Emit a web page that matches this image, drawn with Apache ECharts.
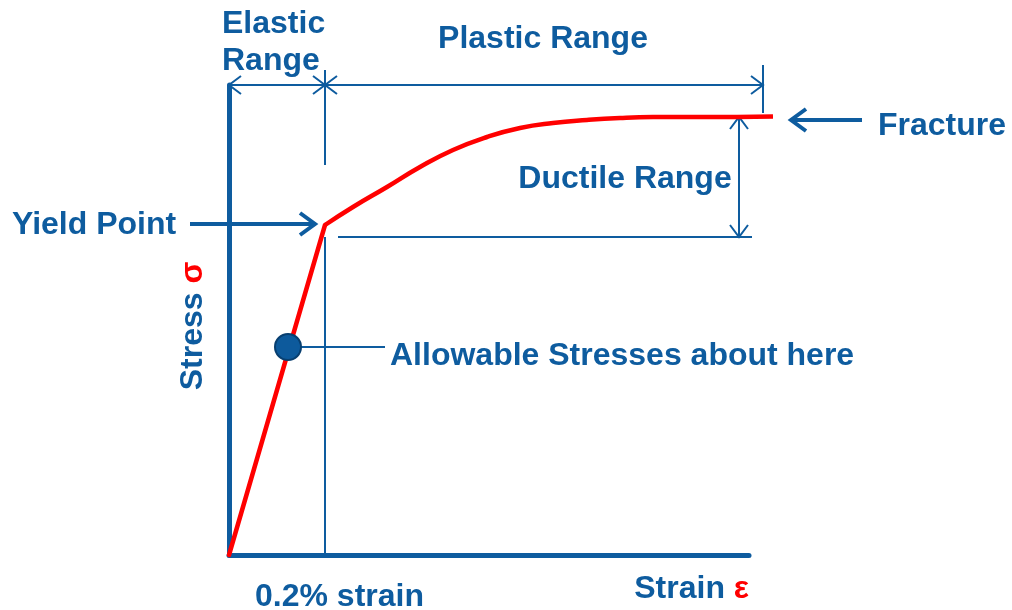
<!DOCTYPE html>
<html>
<head>
<meta charset="utf-8">
<script src="https://cdn.jsdelivr.net/npm/echarts@6/dist/echarts.min.js"></script>
<style>html,body{margin:0;padding:0;background:#fff}#c{width:1012px;height:610px}</style>
</head>
<body>
<div id="c"></div>
<script>
// Stress-strain curve (arbitrary units: strain on x, stress on y)
// elastic part: straight from origin to the yield point
var elasticStrain = [0, 9.6];
var elasticStress = [0, 33.0];
// plastic part: from the yield point to fracture
var plasticStrain = [9.6, 12.4, 15.8, 19.1, 22.4, 25.8, 29.1, 32.4, 35.8, 39.1, 42.4, 50.8, 54.4];
var plasticStress = [33.0, 34.8, 36.8, 38.8, 40.5, 41.8, 42.7, 43.2, 43.5, 43.7, 43.8, 43.8, 43.85];
// allowable stress point
var allowablePoint = [5.9, 20.8];
// thin annotation segments: [x1, y1, x2, y2, arrowAtStart, arrowAtEnd]
var thinSegments = [
  [0, 47, 9.6, 47, 1, 1],        // elastic range
  [9.6, 47, 53.4, 47, 1, 1],     // plastic range
  [53.4, 49, 53.4, 44.2, 0, 0],  // plastic end tick
  [9.6, 48.5, 9.6, 39.0, 0, 0],  // elastic/plastic divider (top)
  [9.6, 31.8, 9.6, 0, 0, 0],     // 0.2% strain line
  [10.9, 31.8, 52.3, 31.8, 0, 0],// yield level line
  [51.0, 43.8, 51.0, 31.8, 1, 1],// ductile range
  [5.9, 20.8, 15.6, 20.8, 0, 0]  // leader to allowable label
];
// thick pointer arrows
var pointerArrows = [
  [-3.9, 33.1, 8.6, 33.1, 0, 1], // yield point
  [63.3, 43.5, 56.2, 43.5, 0, 1] // fracture
];
var labels = {
  elastic1: 'Elastic', elastic2: 'Range', plastic: 'Plastic Range', ductile: 'Ductile Range',
  fracture: 'Fracture', yieldPt: 'Yield Point', allowable: 'Allowable Stresses about here',
  strain02: '0.2% strain', xName: 'Strain', yName: 'Stress'
};

var BLUE = '#0e5c9f';
var RED = '#ff0000';
var FONT = '"Liberation Sans", Arial, sans-serif';

function arrowRender(headLen, headW, lw) {
  return function (params, api) {
    var p1 = api.coord([api.value(0), api.value(1)]);
    var p2 = api.coord([api.value(2), api.value(3)]);
    var dx = p2[0] - p1[0], dy = p2[1] - p1[1];
    var len = Math.sqrt(dx * dx + dy * dy) || 1;
    var ux = dx / len, uy = dy / len, nx = -uy, ny = ux;
    var children = [{
      type: 'line',
      shape: { x1: p1[0], y1: p1[1], x2: p2[0], y2: p2[1] },
      style: { stroke: BLUE, lineWidth: lw }
    }];
    function head(p, sx, sy) {
      children.push({
        type: 'polyline',
        shape: { points: [
          [p[0] + sx * headLen + nx * headW, p[1] + sy * headLen + ny * headW],
          [p[0], p[1]],
          [p[0] + sx * headLen - nx * headW, p[1] + sy * headLen - ny * headW]
        ] },
        style: { stroke: BLUE, lineWidth: lw, fill: null, lineJoin: 'miter' }
      });
    }
    if (api.value(4)) head(p1, ux, uy);
    if (api.value(5)) head(p2, -ux, -uy);
    return { type: 'group', children: children };
  };
}

var elasticData = elasticStrain.map(function (x, i) { return [x, elasticStress[i]]; });
var plasticData = plasticStrain.map(function (x, i) { return [x, plasticStress[i]]; });

// draws the whole curve once (first data item), through the grid's own scales
function curveRender(params, api) {
  if (params.dataIndex !== 0) return null;
  var e = elasticData.map(function (d) { return api.coord(d); });
  var p = plasticData.map(function (d) { return api.coord(d); });
  return {
    type: 'group',
    children: [
      { type: 'polyline', shape: { points: e }, style: { stroke: RED, lineWidth: 4.5, fill: null, lineCap: 'round', lineJoin: 'round' } },
      { type: 'polyline', shape: { points: p, smooth: 0.5 }, style: { stroke: RED, lineWidth: 4.5, fill: null, lineCap: 'butt', lineJoin: 'round' } }
    ]
  };
}

function txt(text, x, y, align) {
  return {
    type: 'text', x: x, y: y, silent: true,
    style: { text: text, fill: BLUE, font: 'bold 32px ' + FONT, align: align || 'left', verticalAlign: 'middle' }
  };
}

var chart = echarts.init(document.getElementById('c'), null, { renderer: 'canvas' });
chart.setOption({
  animation: false,
  backgroundColor: '#ffffff',
  grid: { left: 229, top: 85, width: 520, height: 470 },
  xAxis: {
    type: 'value', min: 0, max: 52, splitLine: { show: false },
    axisTick: { show: false }, axisLabel: { show: false },
    axisLine: { show: true, lineStyle: { color: BLUE, width: 5 } },
    name: labels.xName + ' {r|ε}', nameLocation: 'end', nameGap: 0,
    nameTextStyle: {
      color: BLUE, fontFamily: FONT, fontWeight: 'bold', fontSize: 32,
      align: 'right', verticalAlign: 'top', padding: [18, 0, 0, 0],
      rich: { r: { color: RED, fontFamily: FONT, fontWeight: 'bold', fontSize: 32 } }
    }
  },
  yAxis: {
    type: 'value', min: 0, max: 47, splitLine: { show: false },
    axisTick: { show: false }, axisLabel: { show: false },
    axisLine: { show: true, lineStyle: { color: BLUE, width: 5 } },
    name: labels.yName + ' {r|σ}', nameLocation: 'middle', nameGap: 20, nameRotate: 90,
    nameTextStyle: {
      color: BLUE, fontFamily: FONT, fontWeight: 'bold', fontSize: 32, padding: [0, 12, 0, 0],
      rich: { r: { color: RED, fontFamily: FONT, fontWeight: 'bold', fontSize: 32 } }
    }
  },
  series: [
    {
      type: 'custom', clip: false, z: 2,
      renderItem: arrowRender(12, 9, 2),
      data: thinSegments
    },
    {
      type: 'custom', clip: false, z: 3,
      renderItem: curveRender,
      data: elasticData.concat(plasticData)
    },
    {
      type: 'custom', clip: false, z: 4,
      renderItem: arrowRender(15, 11, 4),
      data: pointerArrows
    },
    {
      type: 'scatter', data: [allowablePoint], symbolSize: 26, z: 5,
      itemStyle: { color: '#0d5a9c', borderColor: '#083f70', borderWidth: 2, opacity: 1 }
    }
  ],
  graphic: [
    txt(labels.elastic1, 222, 24),
    txt(labels.elastic2, 222, 61),
    txt(labels.plastic, 543, 39, 'center'),
    txt(labels.ductile, 625, 179, 'center'),
    txt(labels.fracture, 878, 126),
    txt(labels.yieldPt, 12, 225),
    txt(labels.allowable, 390, 356),
    txt(labels.strain02, 255, 597)
  ]
});
</script>
</body>
</html>
